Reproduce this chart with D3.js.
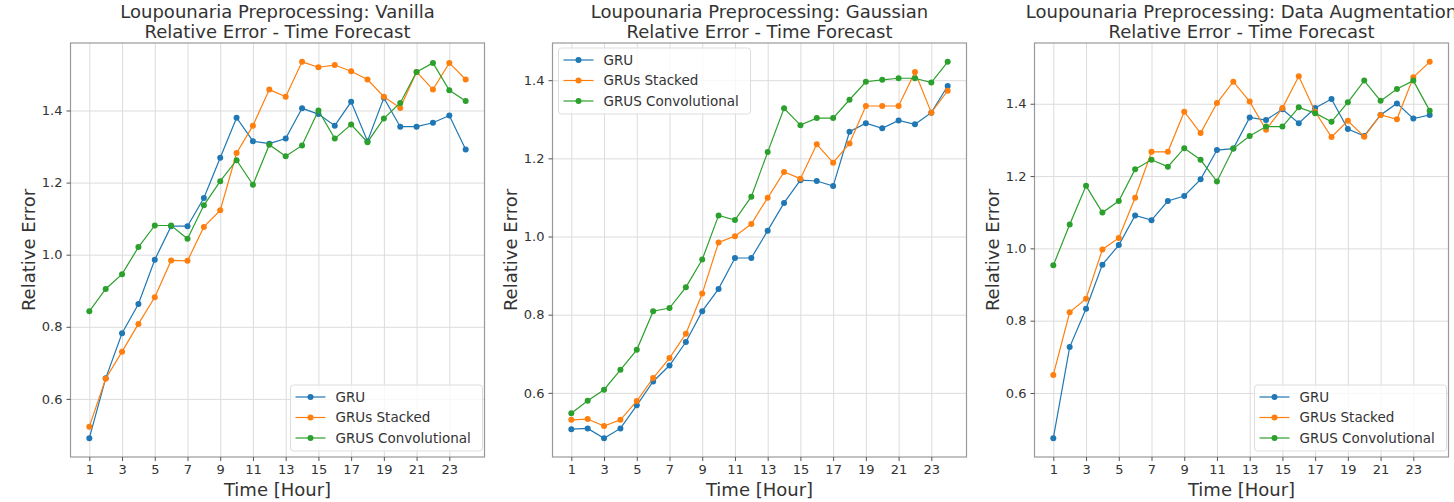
<!DOCTYPE html>
<html>
<head>
<meta charset="utf-8">
<script src="https://cdn.jsdelivr.net/npm/d3@7"></script>
<style>
  body { margin: 0; background: #fff; }
  text { font-family: "DejaVu Sans", sans-serif; }
</style>
</head>
<body>
<svg id="chart" width="1454" height="502"></svg>
<script>
// hours on the x axis
const hours = [1, 2, 3, 4, 5, 6, 7, 8, 9, 10, 11, 12, 13, 14, 15, 16, 17, 18, 19, 20, 21, 22, 23, 24]
const tickHours = [1, 3, 5, 7, 9, 11, 13, 15, 17, 19, 21, 23]
const yTicks = [0.6, 0.8, 1.0, 1.2, 1.4]

const seriesNames = ["GRU", "GRUs Stacked", "GRUS Convolutional"]
const seriesColors = ["#1f77b4", "#ff7f0e", "#2ca02c"]

const titles = [
  "Loupounaria Preprocessing: Vanilla",
  "Loupounaria Preprocessing: Gaussian",
  "Loupounaria Preprocessing: Data Augmentation"
]
const subtitle = "Relative Error - Time Forecast"

// Vanilla
const vanillaGRU = [0.491, 0.657, 0.782, 0.863, 0.986, 1.079, 1.079, 1.157, 1.269, 1.380, 1.315, 1.308,
  1.322, 1.406, 1.390, 1.358, 1.424, 1.315, 1.435, 1.355, 1.355, 1.366, 1.386, 1.292]
const vanillaStacked = [0.523, 0.656, 0.731, 0.808, 0.882, 0.984, 0.983, 1.077, 1.123, 1.282, 1.358, 1.458,
  1.438, 1.535, 1.520, 1.526, 1.509, 1.486, 1.438, 1.407, 1.507, 1.458, 1.532, 1.486]
const vanillaConv = [0.843, 0.905, 0.946, 1.021, 1.081, 1.081, 1.044, 1.137, 1.204, 1.262, 1.194, 1.305,
  1.273, 1.303, 1.400, 1.322, 1.361, 1.312, 1.378, 1.421, 1.507, 1.532, 1.456, 1.426]

// Gaussian
const gaussGRU = [0.507, 0.509, 0.484, 0.509, 0.568, 0.629, 0.670, 0.730, 0.809, 0.866, 0.945, 0.945,
  1.015, 1.086, 1.144, 1.142, 1.129, 1.268, 1.290, 1.277, 1.297, 1.287, 1.317, 1.385]
const gaussStacked = [0.531, 0.533, 0.515, 0.531, 0.579, 0.638, 0.689, 0.751, 0.854, 0.985, 1.001, 1.032,
  1.099, 1.165, 1.148, 1.236, 1.189, 1.238, 1.334, 1.334, 1.334, 1.421, 1.317, 1.373]
const gaussConv = [0.548, 0.580, 0.608, 0.659, 0.710, 0.809, 0.817, 0.870, 0.941, 1.054, 1.042, 1.102,
  1.216, 1.328, 1.285, 1.303, 1.303, 1.350, 1.396, 1.401, 1.405, 1.405, 1.394, 1.447]

// Data Augmentation
const augGRU = [0.475, 0.727, 0.833, 0.955, 1.009, 1.091, 1.078, 1.131, 1.145, 1.191, 1.272, 1.276,
  1.362, 1.355, 1.385, 1.346, 1.388, 1.413, 1.330, 1.311, 1.369, 1.401, 1.359, 1.369]
const augStacked = [0.650, 0.823, 0.861, 0.997, 1.029, 1.140, 1.267, 1.267, 1.378, 1.319, 1.402, 1.461,
  1.406, 1.328, 1.388, 1.476, 1.378, 1.308, 1.353, 1.309, 1.369, 1.357, 1.473, 1.516]
const augConv = [0.953, 1.066, 1.173, 1.099, 1.131, 1.219, 1.245, 1.226, 1.277, 1.245, 1.185, 1.276,
  1.311, 1.337, 1.337, 1.390, 1.374, 1.350, 1.404, 1.464, 1.408, 1.441, 1.464, 1.381]

const panels = [
  { title: titles[0], series: [vanillaGRU, vanillaStacked, vanillaConv], legend: "lower right" },
  { title: titles[1], series: [gaussGRU, gaussStacked, gaussConv], legend: "upper left" },
  { title: titles[2], series: [augGRU, augStacked, augConv], legend: "lower right" }
]

const svg = d3.select("#chart")
const axLefts = [70.5, 552.5, 1034.5]
const axW = 414
const axTop = 43
const axBottom = 457
const textColor = "#333"

panels.forEach((p, i) => {
  const left = axLefts[i]
  const right = left + axW

  // matplotlib style 5% margins
  const x = d3.scaleLinear().domain([-0.15, 25.15]).range([left, right])
  const all = p.series.flat()
  const lo = d3.min(all), hi = d3.max(all)
  const pad = (hi - lo) * 0.05
  const y = d3.scaleLinear().domain([lo - pad, hi + pad]).range([axBottom, axTop])

  const g = svg.append("g")

  // grid
  g.append("g")
    .attr("transform", `translate(0,${axBottom})`)
    .call(d3.axisBottom(x).tickValues(tickHours).tickSize(-(axBottom - axTop)).tickFormat(""))
    .call(s => s.select(".domain").remove())
    .call(s => s.selectAll("line").attr("stroke", "#dcdcdc").attr("stroke-width", 1))
  g.append("g")
    .attr("transform", `translate(${left},0)`)
    .call(d3.axisLeft(y).tickValues(yTicks).tickSize(-axW).tickFormat(""))
    .call(s => s.select(".domain").remove())
    .call(s => s.selectAll("line").attr("stroke", "#dcdcdc").attr("stroke-width", 1))

  // frame
  g.append("rect")
    .attr("x", left).attr("y", axTop)
    .attr("width", axW).attr("height", axBottom - axTop)
    .attr("fill", "none").attr("stroke", "#999").attr("stroke-width", 1.2)

  // axes with labels
  g.append("g")
    .attr("transform", `translate(0,${axBottom})`)
    .call(d3.axisBottom(x).tickValues(tickHours).tickSize(4).tickPadding(4))
    .call(s => s.select(".domain").remove())
    .call(s => s.selectAll("line").attr("stroke", "#555"))
    .call(s => s.selectAll("text").attr("fill", textColor).style("font-size", "13px").style("font-family", "DejaVu Sans"))
  g.append("g")
    .attr("transform", `translate(${left},0)`)
    .call(d3.axisLeft(y).tickValues(yTicks).tickSize(4).tickPadding(4).tickFormat(d3.format(".1f")))
    .call(s => s.select(".domain").remove())
    .call(s => s.selectAll("line").attr("stroke", "#555"))
    .call(s => s.selectAll("text").attr("fill", textColor).style("font-size", "13px").style("font-family", "DejaVu Sans"))

  // titles
  const cx = (left + right) / 2
  g.append("text").attr("x", cx).attr("y", 18).attr("text-anchor", "middle")
    .attr("fill", textColor).style("font-size", "18px").text(p.title)
  g.append("text").attr("x", cx).attr("y", 38).attr("text-anchor", "middle")
    .attr("fill", textColor).style("font-size", "18px").text(subtitle)

  g.append("text").attr("x", cx).attr("y", 496).attr("text-anchor", "middle")
    .attr("fill", textColor).style("font-size", "18px").text("Time [Hour]")
  g.append("text")
    .attr("transform", `translate(${left - 36},${(axTop + axBottom) / 2}) rotate(-90)`)
    .attr("text-anchor", "middle")
    .attr("fill", textColor).style("font-size", "18px").text("Relative Error")

  // lines
  const line = d3.line().x((d, k) => x(hours[k])).y(d => y(d))
  p.series.forEach((vals, si) => {
    g.append("path").datum(vals)
      .attr("d", line)
      .attr("fill", "none")
      .attr("stroke", seriesColors[si])
      .attr("stroke-width", 1.2)
    g.append("g").selectAll("circle")
      .data(vals)
      .join("circle")
      .attr("cx", (d, k) => x(hours[k]))
      .attr("cy", d => y(d))
      .attr("r", 3)
      .attr("fill", seriesColors[si])
  })

  // legend
  const lw = 192, lh = 66
  let lx, ly
  if (p.legend === "lower right") {
    lx = right - lw - 2
    ly = axBottom - lh - 6
  } else {
    lx = left + 6
    ly = axTop + 5
  }
  const leg = g.append("g").attr("transform", `translate(${lx},${ly})`)
  leg.append("rect")
    .attr("width", lw).attr("height", lh).attr("rx", 3)
    .attr("fill", "#fff").attr("fill-opacity", 0.8)
    .attr("stroke", "#ddd")
  seriesNames.forEach((name, si) => {
    const yy = 12 + si * 20.5
    leg.append("line").attr("x1", 5).attr("x2", 35).attr("y1", yy).attr("y2", yy)
      .attr("stroke", seriesColors[si]).attr("stroke-width", 1.2)
    leg.append("circle").attr("cx", 20).attr("cy", yy).attr("r", 3).attr("fill", seriesColors[si])
    leg.append("text").attr("x", 45).attr("y", yy).attr("dy", "0.35em")
      .attr("fill", textColor).style("font-size", "13.5px").text(name)
  })
})
</script>
</body>
</html>
